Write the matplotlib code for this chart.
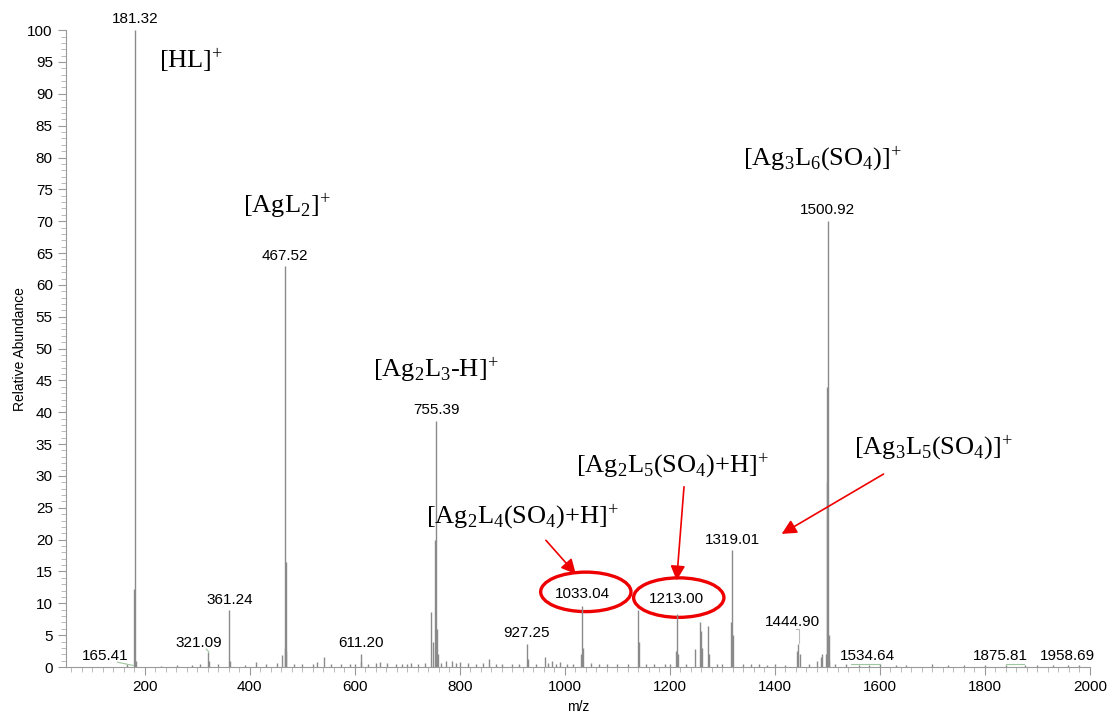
import numpy as np
import matplotlib
matplotlib.use('Agg')
import matplotlib.pyplot as plt
import matplotlib.ticker as ticker
from matplotlib.patches import Ellipse

plt.rcParams['font.family'] = ['Liberation Sans', 'DejaVu Sans']
plt.rcParams['mathtext.fontset'] = 'custom'
plt.rcParams['mathtext.rm'] = 'Liberation Serif'
plt.rcParams['mathtext.it'] = 'Liberation Serif:italic'
plt.rcParams['mathtext.default'] = 'regular'

# peak list (m/z, relative abundance)
mz = [165.41, 179.6, 181.32, 182.4, 230, 262, 290, 305,
      321.09, 323.0, 340, 361.24, 363.0, 390, 412, 430, 452,
      460.5, 466.4, 467.52, 468.6, 469.6, 485, 500, 520, 528, 540.5, 555,
      573, 590, 600, 611.20, 612.6, 625, 640, 648, 662, 678, 690, 700, 708, 720, 733,
      746.0, 748.2, 753.5, 755.39, 756.6, 758.2, 765, 773, 785, 793, 800, 815, 830, 845, 855, 868, 880, 900, 912,
      927.25, 929.2, 945, 962, 968, 975, 983, 990, 1005, 1015,
      1030.8, 1033.04, 1035.2, 1050, 1065, 1080, 1100, 1120,
      1139.6, 1141.6, 1155, 1170, 1190, 1200, 1211.0, 1213.00, 1215.0, 1230,
      1248, 1256.8, 1258.8, 1261, 1271.8, 1274, 1290,
      1300, 1317.0, 1319.01, 1321.0, 1340, 1355, 1370, 1385, 1400, 1420,
      1442.5, 1444.90, 1447, 1465, 1480, 1487, 1490,
      1497, 1498.9, 1499.9, 1500.92, 1502.2, 1504, 1515,
      1534.64, 1560, 1580, 1600, 1630, 1650, 1700, 1730, 1760, 1800, 1840, 1875.81, 1900, 1930, 1958.69, 1980]
ab = [0.4, 12.2, 100, 1.0, 0.2, 0.3, 0.3, 0.4,
      2.3, 1.0, 0.4, 9.0, 1.0, 0.3, 0.8, 0.4, 0.6,
      1.9, 3.0, 63, 16.5, 2.5, 0.4, 0.5, 0.5, 0.8, 1.5, 0.4,
      0.5, 0.4, 0.5, 2.0, 0.8, 0.4, 0.6, 0.8, 0.6, 0.5, 0.5, 0.4, 0.7, 0.5, 0.7,
      8.6, 4.0, 20.0, 38.7, 6.0, 2.0, 0.6, 1.0, 1.0, 0.6, 0.8, 0.7, 0.5, 0.6, 1.2, 0.5, 0.5, 0.4, 0.4,
      3.6, 1.2, 0.5, 1.6, 0.6, 0.9, 0.5, 0.8, 0.4, 0.5,
      2.0, 9.6, 3.0, 0.7, 0.4, 0.4, 0.5, 0.4,
      9.0, 4.0, 0.5, 0.5, 0.5, 0.4, 2.5, 8.3, 2.0, 0.4,
      2.8, 7.0, 5.6, 3.0, 6.5, 2.0, 0.5,
      0.5, 7.0, 18.3, 5.0, 0.5, 0.4, 0.4, 0.3, 0.4, 0.3,
      2.5, 3.6, 2.0, 0.5, 0.9, 1.5, 2.0,
      2.0, 29, 44, 70, 5.0, 1.0, 0.4,
      0.4, 0.3, 0.3, 0.4, 0.3, 0.3, 0.4, 0.3, 0.3, 0.3, 0.3, 0.3, 0.3, 0.3, 0.3, 0.3]

# labelled peaks and where their labels sit
lab_mz = [181.32, 467.52, 755.39, 1500.92, 361.24, 321.09, 165.41, 611.20,
          927.25, 1033.04, 1213.00, 1319.01, 1444.90, 1534.64, 1875.81, 1958.69]
lab_x = [181.32, 467.52, 755.39, 1500.92, 361.24, 302, 124, 611.20,
         927.25, 1033.04, 1213.00, 1319.01, 1434, 1576, 1829, 1958]
lab_y = [100.7, 63.5, 39.2, 70.6, 9.4, 2.7, 0.6, 2.7,
         4.2, 10.4, 9.6, 18.8, 5.9, 0.7, 0.7, 0.7]

# species annotations (text, x, y)
ions = [r'[HL$]^{+}$', r'[AgL$_2]^{+}$', r'[Ag$_2$L$_3$-H$]^{+}$', r'[Ag$_3$L$_6$(SO$_4$)$]^{+}$',
        r'[Ag$_2$L$_5$(SO$_4$)+H$]^{+}$', r'[Ag$_2$L$_4$(SO$_4$)+H$]^{+}$', r'[Ag$_3$L$_5$(SO$_4$)$]^{+}$']
ion_x = [227, 388, 635, 1339, 1021, 736, 1550]
ion_y = [93.0, 70.0, 44.3, 77.6, 29.3, 21.4, 32.2]

fig = plt.figure(figsize=(11.11, 7.18), dpi=100)
ax = fig.add_axes([0.0594, 0.071, 0.9216, 0.887])

ax.vlines(mz, 0, ab, color='#8a8a8a', lw=1.0)

for m, x, y in zip(lab_mz, lab_x, lab_y):
    ax.text(x, y, '%.2f' % m, ha='center', va='bottom', fontsize=11)

# small leader lines from offset labels
grn = '#9fc79f'
ax.plot([148, 178], [0.75, 0.25], color=grn, lw=0.8)
ax.plot([317, 322], [2.8, 2.4], color=grn, lw=0.8)
ax.plot([1440, 1446, 1446], [5.9, 5.9, 3.7], color='#bbbbbb', lw=0.8)
ax.plot([1545, 1600], [0.5, 0.5], color=grn, lw=0.8)
ax.plot([1840, 1875], [0.45, 0.45], color=grn, lw=0.8)

for t, x, y in zip(ions, ion_x, ion_y):
    ax.text(x, y, t, ha='left', va='bottom', fontsize=19, family='Liberation Serif')

red = '#ee0000'
for (x0, y0), (x1, y1) in [((964, 19.9), (1021, 14.6)),
                           ((1227, 28.3), (1213, 13.6)),
                           ((1607, 30.3), (1413, 20.9))]:
    ax.annotate('', xy=(x1, y1), xytext=(x0, y0),
                arrowprops=dict(arrowstyle='-|>', color=red, lw=1.2,
                                mutation_scale=22, shrinkA=0, shrinkB=0))

ax.add_patch(Ellipse((1040, 11.8), 172, 6.2, fill=False, ec=red, lw=2.4))
ax.add_patch(Ellipse((1217, 10.9), 172, 6.2, fill=False, ec=red, lw=2.4))

ax.set_xlim(50, 2000)
ax.set_ylim(0, 100)
ax.xaxis.set_major_locator(ticker.MultipleLocator(200))
ax.xaxis.set_minor_locator(ticker.MultipleLocator(20))
ax.yaxis.set_major_locator(ticker.MultipleLocator(5))
ax.yaxis.set_minor_locator(ticker.MultipleLocator(1))
ax.tick_params(which='major', direction='out', length=6, width=0.8, color='#9a9a9a', labelsize=11)
ax.tick_params(which='minor', direction='out', length=3.5, width=0.6, color='#b0b0b0')
for s in ['top', 'right']:
    ax.spines[s].set_visible(False)
for s in ['left', 'bottom']:
    ax.spines[s].set_color('#9a9a9a')
    ax.spines[s].set_linewidth(0.8)

ax.set_xlabel('m/z', fontsize=10, labelpad=4)
ax.set_ylabel('Relative Abundance', fontsize=10, labelpad=0)

fig.savefig('out.png', dpi=100)
